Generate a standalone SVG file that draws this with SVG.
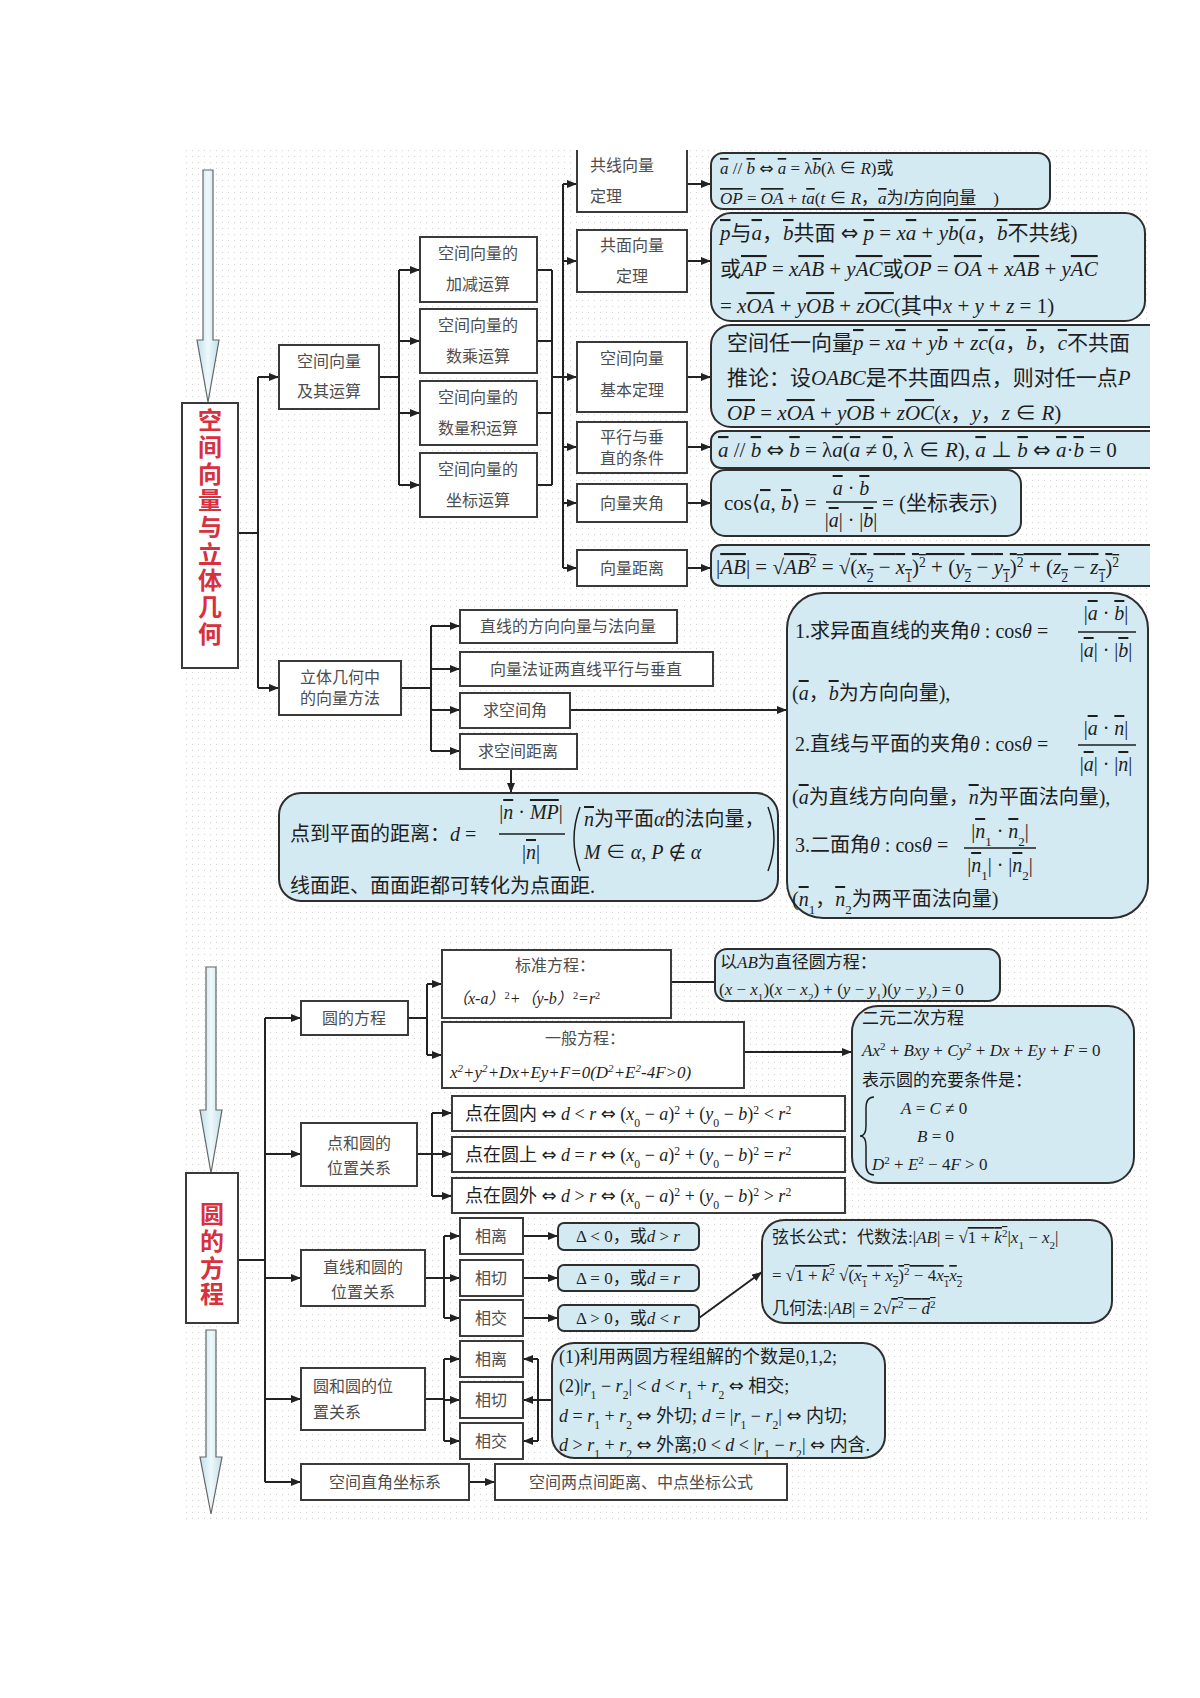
<svg xmlns="http://www.w3.org/2000/svg" width="1200" height="1698" viewBox="0 0 1200 1698">
<defs>
<style>
.nb{fill:#fff;stroke:#3a3a3a;stroke-width:2}
.fb{fill:#d4eaf3;stroke:#2e2e2e;stroke-width:2}
.t{font-family:"Noto Sans CJK SC",sans-serif;font-size:16px;fill:#4d4d4d;text-anchor:middle}
.tl{font-family:"Noto Sans CJK SC",sans-serif;font-size:16px;fill:#4d4d4d}
.m{font-family:"Liberation Serif","Noto Sans CJK SC",serif;fill:#1e1e1e}
.mc{text-anchor:middle}
.i{font-style:italic}
.v{text-decoration:overline}
.ar{font-family:"DejaVu Sans",sans-serif;font-style:normal}
.sb{baseline-shift:sub;font-size:65%}
.sp{baseline-shift:super;font-size:65%}
.c{stroke:#222;stroke-width:2;fill:none}
.ttl{font-family:"Noto Sans CJK SC",sans-serif;font-size:24px;font-weight:bold;fill:#d7303e;writing-mode:tb;letter-spacing:2.7px}
.bar{stroke:#1e1e1e;stroke-width:1.3}
.par{stroke:#1e1e1e;stroke-width:1.5;fill:none}
</style>
<marker id="ah" viewBox="0 0 10 8" refX="10" refY="4" markerWidth="10" markerHeight="8" markerUnits="userSpaceOnUse" orient="auto"><path d="M0,0 L10,4 L0,8 z" fill="#222"/></marker>
<pattern id="dots" width="6" height="6" patternUnits="userSpaceOnUse"><rect x="0" y="0" width="1" height="1" fill="#d4d4d4"/></pattern>
<clipPath id="clipR"><rect x="0" y="0" width="1150" height="1698"/></clipPath>
<linearGradient id="ag" x1="0" x2="1"><stop offset="0" stop-color="#bfe0ea"/><stop offset="0.5" stop-color="#eef9fb"/><stop offset="1" stop-color="#bfe0ea"/></linearGradient>
</defs>
<rect width="1200" height="1698" fill="#fff"/>
<rect x="182" y="150" width="968" height="1372" fill="url(#dots)"/>

<g id="arrow-top"><path d="M203,170 L213,170 L213,340 L219,340 L208,402 L197,340 L203,340 Z" fill="url(#ag)" stroke="#666" stroke-width="1.2"/></g>
<g id="arrow-mid"><path d="M206,967 L216,967 L216,1110 L222,1110 L211,1173 L200,1110 L206,1110 Z" fill="url(#ag)" stroke="#666" stroke-width="1.2"/></g>
<g id="arrow-bot"><path d="M206,1330 L216,1330 L216,1457 L222,1457 L211,1514 L200,1457 L206,1457 Z" fill="url(#ag)" stroke="#666" stroke-width="1.2"/></g>

<g id="connectors">
<path class="c" d="M238,533 H258 M258,377 V688 M379,377 H399 M399,270 V485 M537,270 H552 M537,341 H552 M537,413 H552 M537,485 H552 M552,270 V485 M552,377 H563 M563,184 V568"/>
<path class="c" marker-end="url(#ah)" d="M258,377 H279"/>
<path class="c" marker-end="url(#ah)" d="M258,688 H279"/>
<path class="c" marker-end="url(#ah)" d="M399,270 H420"/>
<path class="c" marker-end="url(#ah)" d="M399,341 H420"/>
<path class="c" marker-end="url(#ah)" d="M399,413 H420"/>
<path class="c" marker-end="url(#ah)" d="M399,485 H420"/>
<path class="c" marker-end="url(#ah)" d="M563,184 H577"/>
<path class="c" marker-end="url(#ah)" d="M563,261 H577"/>
<path class="c" marker-end="url(#ah)" d="M563,377 H577"/>
<path class="c" marker-end="url(#ah)" d="M563,447 H577"/>
<path class="c" marker-end="url(#ah)" d="M563,503 H577"/>
<path class="c" marker-end="url(#ah)" d="M563,568 H577"/>
<path class="c" marker-end="url(#ah)" d="M687,184 H711"/>
<path class="c" marker-end="url(#ah)" d="M687,261 H711"/>
<path class="c" marker-end="url(#ah)" d="M687,377 H711"/>
<path class="c" marker-end="url(#ah)" d="M687,447 H711"/>
<path class="c" marker-end="url(#ah)" d="M687,503 H711"/>
<path class="c" marker-end="url(#ah)" d="M687,568 H711"/>
<path class="c" d="M401,688 H431 M431,626 V751"/>
<path class="c" marker-end="url(#ah)" d="M431,626 H460"/>
<path class="c" marker-end="url(#ah)" d="M431,669 H460"/>
<path class="c" marker-end="url(#ah)" d="M431,710 H460"/>
<path class="c" marker-end="url(#ah)" d="M431,751 H460"/>
<path class="c" marker-end="url(#ah)" d="M570,710 H787"/>
<path class="c" marker-end="url(#ah)" d="M511,769 V793"/>

<path class="c" d="M238,1260 H265 M265,1018 V1482 M408,1018 H427 M427,984 V1055 M671,982 H715 M417,1154 H432 M432,1113 V1196 M425,1278 H444 M444,1236 V1318 M425,1399 H444 M444,1359 V1441 M552,1400 H538 M538,1359 V1441"/>
<path class="c" marker-end="url(#ah)" d="M265,1018 H301"/>
<path class="c" marker-end="url(#ah)" d="M265,1154 H301"/>
<path class="c" marker-end="url(#ah)" d="M265,1278 H301"/>
<path class="c" marker-end="url(#ah)" d="M265,1399 H301"/>
<path class="c" marker-end="url(#ah)" d="M265,1482 H301"/>
<path class="c" marker-end="url(#ah)" d="M427,984 H442"/>
<path class="c" marker-end="url(#ah)" d="M427,1055 H442"/>
<path class="c" marker-end="url(#ah)" d="M744,1052 H852"/>
<path class="c" marker-end="url(#ah)" d="M432,1113 H452"/>
<path class="c" marker-end="url(#ah)" d="M432,1154 H452"/>
<path class="c" marker-end="url(#ah)" d="M432,1196 H452"/>
<path class="c" marker-end="url(#ah)" d="M444,1236 H460"/>
<path class="c" marker-end="url(#ah)" d="M444,1278 H460"/>
<path class="c" marker-end="url(#ah)" d="M444,1318 H460"/>
<path class="c" marker-end="url(#ah)" d="M523,1236 H558"/>
<path class="c" marker-end="url(#ah)" d="M523,1278 H558"/>
<path class="c" marker-end="url(#ah)" d="M523,1318 H558"/>
<path class="c" marker-end="url(#ah)" d="M699,1318 L762,1272" stroke-width="3"/>
<path class="c" marker-end="url(#ah)" d="M444,1359 H460"/>
<path class="c" marker-end="url(#ah)" d="M444,1400 H460"/>
<path class="c" marker-end="url(#ah)" d="M444,1441 H460"/>
<path class="c" marker-end="url(#ah)" d="M538,1359 H523"/>
<path class="c" marker-end="url(#ah)" d="M538,1400 H523"/>
<path class="c" marker-end="url(#ah)" d="M538,1441 H523"/>
<path class="c" marker-end="url(#ah)" d="M469,1482 H495"/>
</g>

<g id="title1"><rect class="nb" x="182" y="403" width="56" height="265"/>
<text class="ttl" x="210" y="408">空间向量与立体几何</text></g>

<g id="n-vecops"><rect class="nb" x="279" y="345" width="100" height="64"/><text class="t"><tspan x="329" y="367">空间向量</tspan><tspan x="329" y="397">及其运算</tspan></text></g>
<g id="n-addsub"><rect class="nb" x="420" y="237" width="117" height="65"/><text class="t"><tspan x="478" y="259">空间向量的</tspan><tspan x="478" y="290">加减运算</tspan></text></g>
<g id="n-scalar"><rect class="nb" x="420" y="309" width="117" height="64"/><text class="t"><tspan x="478" y="331">空间向量的</tspan><tspan x="478" y="362">数乘运算</tspan></text></g>
<g id="n-dot"><rect class="nb" x="420" y="381" width="117" height="64"/><text class="t"><tspan x="478" y="403">空间向量的</tspan><tspan x="478" y="434">数量积运算</tspan></text></g>
<g id="n-coord"><rect class="nb" x="420" y="453" width="117" height="64"/><text class="t"><tspan x="478" y="475">空间向量的</tspan><tspan x="478" y="506">坐标运算</tspan></text></g>

<g id="n-collinear"><path class="nb" d="M577,150 V212 H687 V150"/><text class="tl"><tspan x="590" y="171">共线向量</tspan><tspan x="590" y="202">定理</tspan></text></g>
<g id="n-coplanar"><rect class="nb" x="577" y="230" width="110" height="62"/><text class="t"><tspan x="632" y="251">共面向量</tspan><tspan x="632" y="282">定理</tspan></text></g>
<g id="n-basic"><rect class="nb" x="577" y="342" width="110" height="70"/><text class="t"><tspan x="632" y="364">空间向量</tspan><tspan x="632" y="396">基本定理</tspan></text></g>
<g id="n-parperp"><rect class="nb" x="577" y="422" width="110" height="51"/><text class="t" font-size="15"><tspan x="632" y="443">平行与垂</tspan><tspan x="632" y="464">直的条件</tspan></text></g>
<g id="n-angle"><rect class="nb" x="577" y="484" width="110" height="38"/><text class="t" x="632" y="509">向量夹角</text></g>
<g id="n-dist"><rect class="nb" x="577" y="550" width="110" height="36"/><text class="t" x="632" y="574">向量距离</text></g>

<g id="f-collinear"><rect class="fb" x="711" y="153" width="339" height="56" rx="12"/>
<text class="m" font-size="17" x="720" y="174"><tspan class="i v">a</tspan> // <tspan class="i v">b</tspan> <tspan class="ar">⇔</tspan> <tspan class="i v">a</tspan> = λ<tspan class="i v">b</tspan>(λ ∈ <tspan class="i">R</tspan>)或</text>
<text class="m" font-size="17" x="720" y="204"><tspan class="i v">OP</tspan> = <tspan class="i v">OA</tspan> + <tspan class="i">t</tspan><tspan class="i v">a</tspan>(<tspan class="i">t</tspan> ∈ <tspan class="i">R</tspan>，<tspan class="i v">a</tspan>为<tspan class="i">l</tspan>方向向量　)</text></g>

<g id="f-coplanar"><rect class="fb" x="711" y="213" width="434" height="108" rx="20"/>
<text class="m" font-size="21" x="720" y="240"><tspan class="i v">p</tspan>与<tspan class="i v">a</tspan>，<tspan class="i v">b</tspan>共面 <tspan class="ar">⇔</tspan> <tspan class="i v">p</tspan> = <tspan class="i">x</tspan><tspan class="i v">a</tspan> + <tspan class="i">y</tspan><tspan class="i v">b</tspan>(<tspan class="i v">a</tspan>，<tspan class="i v">b</tspan>不共线)</text>
<text class="m" font-size="21" x="720" y="276">或<tspan class="i v">AP</tspan> = <tspan class="i">x</tspan><tspan class="i v">AB</tspan> + <tspan class="i">y</tspan><tspan class="i v">AC</tspan>或<tspan class="i v">OP</tspan> = <tspan class="i v">OA</tspan> + <tspan class="i">x</tspan><tspan class="i v">AB</tspan> + <tspan class="i">y</tspan><tspan class="i v">AC</tspan></text>
<text class="m" font-size="21" x="720" y="313">= <tspan class="i">x</tspan><tspan class="i v">OA</tspan> + <tspan class="i">y</tspan><tspan class="i v">OB</tspan> + <tspan class="i">z</tspan><tspan class="i v">OC</tspan>(其中<tspan class="i">x</tspan> + <tspan class="i">y</tspan> + <tspan class="i">z</tspan> = 1)</text></g>

<g clip-path="url(#clipR)">
<g id="f-basic"><rect class="fb" x="711" y="325" width="470" height="102" rx="20"/>
<text class="m" font-size="21" x="727" y="350">空间任一向量<tspan class="i v">p</tspan> = <tspan class="i">x</tspan><tspan class="i v">a</tspan> + <tspan class="i">y</tspan><tspan class="i v">b</tspan> + <tspan class="i">z</tspan><tspan class="i v">c</tspan>(<tspan class="i v">a</tspan>，<tspan class="i v">b</tspan>，<tspan class="i v">c</tspan>不共面</text>
<text class="m" font-size="21" x="727" y="385">推论：设<tspan class="i">OABC</tspan>是不共面四点，则对任一点<tspan class="i">P</tspan></text>
<text class="m" font-size="21" x="727" y="420"><tspan class="i v">OP</tspan> = <tspan class="i">x</tspan><tspan class="i v">OA</tspan> + <tspan class="i">y</tspan><tspan class="i v">OB</tspan> + <tspan class="i">z</tspan><tspan class="i v">OC</tspan>(<tspan class="i">x</tspan>，<tspan class="i">y</tspan>，<tspan class="i">z</tspan> ∈ <tspan class="i">R</tspan>)</text></g>
<g id="f-parperp"><rect class="fb" x="711" y="431" width="470" height="37" rx="10"/>
<text class="m" font-size="21" x="718" y="457"><tspan class="i v">a</tspan> // <tspan class="i v">b</tspan> <tspan class="ar">⇔</tspan> <tspan class="i v">b</tspan> = λ<tspan class="i v">a</tspan>(<tspan class="i v">a</tspan> ≠ <tspan class="v">0</tspan>, λ ∈ <tspan class="i">R</tspan>), <tspan class="i v">a</tspan> ⊥ <tspan class="i v">b</tspan> <tspan class="ar">⇔</tspan> <tspan class="i v">a</tspan>·<tspan class="i v">b</tspan> = 0</text></g>
<g id="f-dist"><rect class="fb" x="711" y="545" width="470" height="41" rx="10"/>
<text class="m" font-size="21" x="716" y="574">|<tspan class="i v">AB</tspan>| = √<tspan class="v"><tspan class="i">AB</tspan><tspan class="sp">2</tspan></tspan> = √<tspan class="v">(<tspan class="i">x</tspan><tspan class="sb">2</tspan> − <tspan class="i">x</tspan><tspan class="sb">1</tspan>)<tspan class="sp">2</tspan> + (<tspan class="i">y</tspan><tspan class="sb">2</tspan> − <tspan class="i">y</tspan><tspan class="sb">1</tspan>)<tspan class="sp">2</tspan> + (<tspan class="i">z</tspan><tspan class="sb">2</tspan> − <tspan class="i">z</tspan><tspan class="sb">1</tspan>)<tspan class="sp">2</tspan></tspan></text></g>
</g>

<g id="f-angle"><rect class="fb" x="711" y="470" width="310" height="66" rx="14"/>
<text class="m" font-size="21" x="724" y="510">cos⟨<tspan class="i v">a</tspan>, <tspan class="i v">b</tspan>⟩ =</text>
<text class="m mc" font-size="20" x="851" y="495"><tspan class="i v">a</tspan> · <tspan class="i v">b</tspan></text>
<line class="bar" x1="826" y1="502" x2="877" y2="502"/>
<text class="m mc" font-size="20" x="851" y="527">|<tspan class="i v">a</tspan>| · |<tspan class="i v">b</tspan>|</text>
<text class="m" font-size="21" x="882" y="510">= (坐标表示)</text></g>

<g id="n-method"><rect class="nb" x="279" y="661" width="122" height="54"/><text class="t"><tspan x="340" y="683">立体几何中</tspan><tspan x="340" y="704">的向量方法</tspan></text></g>
<g id="n-dirnorm"><rect class="nb" x="460" y="610" width="217" height="33"/><text class="t" x="568" y="632">直线的方向向量与法向量</text></g>
<g id="n-proof"><rect class="nb" x="460" y="652" width="253" height="34"/><text class="t" x="586" y="675">向量法证两直线平行与垂直</text></g>
<g id="n-spangle"><rect class="nb" x="460" y="693" width="110" height="35"/><text class="t" x="515" y="716">求空间角</text></g>
<g id="n-spdist"><rect class="nb" x="460" y="734" width="117" height="35"/><text class="t" x="518" y="757">求空间距离</text></g>

<g id="f-pointplane"><rect class="fb" x="279" y="793" width="499" height="108" rx="22"/>
<text class="m" font-size="20" x="290" y="841">点到平面的距离：<tspan class="i">d</tspan> =</text>
<text class="m mc" font-size="20" x="531" y="819">|<tspan class="i v">n</tspan> · <tspan class="i v">MP</tspan>|</text>
<line class="bar" x1="499" y1="834" x2="565" y2="834"/>
<text class="m mc" font-size="20" x="531" y="859">|<tspan class="i v">n</tspan>|</text>
<path class="par" d="M580,807 Q568,839 580,871"/>
<path class="par" d="M768,807 Q780,839 768,871"/>
<text class="m" font-size="20" x="584" y="826"><tspan class="i v">n</tspan>为平面<tspan class="i">α</tspan>的法向量，</text>
<text class="m" font-size="20" x="584" y="859"><tspan class="i">M</tspan> ∈ <tspan class="i">α</tspan>, <tspan class="i">P</tspan> <tspan class="ar">∉</tspan> <tspan class="i">α</tspan></text>
<text class="m" font-size="20" x="290" y="893">线面距、面面距都可转化为点面距.</text></g>

<g id="f-angles"><rect class="fb" x="787" y="593" width="361" height="325" rx="36"/>
<text class="m" font-size="20" x="795" y="638">1.求异面直线的夹角<tspan class="i">θ</tspan> : cos<tspan class="i">θ</tspan> =</text>
<text class="m mc" font-size="20" x="1106" y="620">|<tspan class="i v">a</tspan> · <tspan class="i v">b</tspan>|</text>
<line class="bar" x1="1078" y1="632" x2="1136" y2="632"/>
<text class="m mc" font-size="20" x="1106" y="657">|<tspan class="i v">a</tspan>| · |<tspan class="i v">b</tspan>|</text>
<text class="m" font-size="20" x="792" y="700">(<tspan class="i v">a</tspan>，<tspan class="i v">b</tspan>为方向向量),</text>
<text class="m" font-size="20" x="795" y="751">2.直线与平面的夹角<tspan class="i">θ</tspan> : cos<tspan class="i">θ</tspan> =</text>
<text class="m mc" font-size="20" x="1106" y="735">|<tspan class="i v">a</tspan> · <tspan class="i v">n</tspan>|</text>
<line class="bar" x1="1078" y1="745" x2="1136" y2="745"/>
<text class="m mc" font-size="20" x="1106" y="771">|<tspan class="i v">a</tspan>| · |<tspan class="i v">n</tspan>|</text>
<text class="m" font-size="20" x="792" y="804">(<tspan class="i v">a</tspan>为直线方向向量，<tspan class="i v">n</tspan>为平面法向量),</text>
<text class="m" font-size="20" x="795" y="852">3.二面角<tspan class="i">θ</tspan> : cos<tspan class="i">θ</tspan> =</text>
<text class="m mc" font-size="20" x="1000" y="838">|<tspan class="i v">n</tspan><tspan class="sb">1</tspan> · <tspan class="i v">n</tspan><tspan class="sb">2</tspan>|</text>
<line class="bar" x1="964" y1="848" x2="1036" y2="848"/>
<text class="m mc" font-size="20" x="1000" y="872">|<tspan class="i v">n</tspan><tspan class="sb">1</tspan>| · |<tspan class="i v">n</tspan><tspan class="sb">2</tspan>|</text>
<text class="m" font-size="20" x="792" y="906">(<tspan class="i v">n</tspan><tspan class="sb">1</tspan>，<tspan class="i v">n</tspan><tspan class="sb">2</tspan>为两平面法向量)</text></g>

<g id="title2"><rect class="nb" x="186" y="1173" width="52" height="150"/>
<text class="ttl" x="212" y="1202">圆的方程</text></g>

<g id="n-circeq"><rect class="nb" x="301" y="1001" width="107" height="34"/><text class="t" font-size="17" x="354" y="1024">圆的方程</text></g>
<g id="n-stdeq"><rect class="nb" x="442" y="950" width="229" height="68"/><text class="t" font-size="17" x="555" y="971">标准方程：</text>
<text class="m i" font-size="16" x="452" y="1004">（x-a）<tspan class="sp" font-style="normal">2</tspan>+（y-b）<tspan class="sp" font-style="normal">2</tspan>=r<tspan class="sp" font-style="normal">2</tspan></text></g>
<g id="n-geneq"><rect class="nb" x="442" y="1022" width="302" height="66"/><text class="t" font-size="17" x="585" y="1044">一般方程：</text>
<text class="m i" font-size="17" x="450" y="1078">x<tspan class="sp">2</tspan>+y<tspan class="sp">2</tspan>+Dx+Ey+F=0(D<tspan class="sp">2</tspan>+E<tspan class="sp">2</tspan>-4F&gt;0)</text></g>
<g id="f-diam"><rect class="fb" x="715" y="949" width="285" height="52" rx="12"/>
<text class="m" font-size="17" x="720" y="968">以<tspan class="i">AB</tspan>为直径圆方程：</text>
<text class="m" font-size="17" x="719" y="995">(<tspan class="i">x</tspan> − <tspan class="i">x</tspan><tspan class="sb">1</tspan>)(<tspan class="i">x</tspan> − <tspan class="i">x</tspan><tspan class="sb">2</tspan>) + (<tspan class="i">y</tspan> − <tspan class="i">y</tspan><tspan class="sb">1</tspan>)(<tspan class="i">y</tspan> − <tspan class="i">y</tspan><tspan class="sb">2</tspan>) = 0</text></g>
<g id="f-quad"><rect class="fb" x="852" y="1006" width="282" height="177" rx="26"/>
<text class="m" font-size="17" x="862" y="1024">二元二次方程</text>
<text class="m" font-size="17" x="862" y="1056"><tspan class="i">Ax</tspan><tspan class="sp">2</tspan> + <tspan class="i">Bxy</tspan> + <tspan class="i">Cy</tspan><tspan class="sp">2</tspan> + <tspan class="i">Dx</tspan> + <tspan class="i">Ey</tspan> + <tspan class="i">F</tspan> = 0</text>
<text class="m" font-size="17" x="862" y="1086">表示圆的充要条件是：</text>
<path class="par" d="M874,1097 Q866,1097 866,1108 V1126 Q866,1136 860,1136 Q866,1136 866,1146 V1164 Q866,1175 874,1175"/>
<text class="m" font-size="17" x="901" y="1114"><tspan class="i">A</tspan> = <tspan class="i">C</tspan> ≠ 0</text>
<text class="m" font-size="17" x="917" y="1142"><tspan class="i">B</tspan> = 0</text>
<text class="m" font-size="17" x="872" y="1170"><tspan class="i">D</tspan><tspan class="sp">2</tspan> + <tspan class="i">E</tspan><tspan class="sp">2</tspan> − 4<tspan class="i">F</tspan> &gt; 0</text></g>

<g id="n-pointcirc"><rect class="nb" x="301" y="1123" width="116" height="63"/><text class="t" font-size="17"><tspan x="359" y="1149">点和圆的</tspan><tspan x="359" y="1174">位置关系</tspan></text></g>
<g id="n-in"><rect class="nb" x="452" y="1096" width="393" height="35"/>
<text class="m" font-size="18" x="465" y="1120">点在圆内 <tspan class="ar">⇔</tspan> <tspan class="i">d</tspan> &lt; <tspan class="i">r</tspan> <tspan class="ar">⇔</tspan> (<tspan class="i">x</tspan><tspan class="sb">0</tspan> − <tspan class="i">a</tspan>)<tspan class="sp">2</tspan> + (<tspan class="i">y</tspan><tspan class="sb">0</tspan> − <tspan class="i">b</tspan>)<tspan class="sp">2</tspan> &lt; <tspan class="i">r</tspan><tspan class="sp">2</tspan></text></g>
<g id="n-on"><rect class="nb" x="452" y="1137" width="393" height="35"/>
<text class="m" font-size="18" x="465" y="1161">点在圆上 <tspan class="ar">⇔</tspan> <tspan class="i">d</tspan> = <tspan class="i">r</tspan> <tspan class="ar">⇔</tspan> (<tspan class="i">x</tspan><tspan class="sb">0</tspan> − <tspan class="i">a</tspan>)<tspan class="sp">2</tspan> + (<tspan class="i">y</tspan><tspan class="sb">0</tspan> − <tspan class="i">b</tspan>)<tspan class="sp">2</tspan> = <tspan class="i">r</tspan><tspan class="sp">2</tspan></text></g>
<g id="n-out"><rect class="nb" x="452" y="1178" width="393" height="35"/>
<text class="m" font-size="18" x="465" y="1202">点在圆外 <tspan class="ar">⇔</tspan> <tspan class="i">d</tspan> &gt; <tspan class="i">r</tspan> <tspan class="ar">⇔</tspan> (<tspan class="i">x</tspan><tspan class="sb">0</tspan> − <tspan class="i">a</tspan>)<tspan class="sp">2</tspan> + (<tspan class="i">y</tspan><tspan class="sb">0</tspan> − <tspan class="i">b</tspan>)<tspan class="sp">2</tspan> &gt; <tspan class="i">r</tspan><tspan class="sp">2</tspan></text></g>

<g id="n-linecirc"><rect class="nb" x="301" y="1250" width="124" height="56"/><text class="t" font-size="17"><tspan x="363" y="1273">直线和圆的</tspan><tspan x="363" y="1298">位置关系</tspan></text></g>
<g id="n-l-sep"><rect class="nb" x="460" y="1218" width="63" height="36"/><text class="t" font-size="17" x="491" y="1242">相离</text></g>
<g id="n-l-tan"><rect class="nb" x="460" y="1260" width="63" height="36"/><text class="t" font-size="17" x="491" y="1284">相切</text></g>
<g id="n-l-int"><rect class="nb" x="460" y="1300" width="63" height="36"/><text class="t" font-size="17" x="491" y="1324">相交</text></g>
<g id="f-l-sep"><rect class="fb" x="558" y="1223" width="141" height="27" rx="6"/><text class="m mc" font-size="17" x="628" y="1242">Δ &lt; 0，或<tspan class="i">d</tspan> &gt; <tspan class="i">r</tspan></text></g>
<g id="f-l-tan"><rect class="fb" x="558" y="1265" width="141" height="26" rx="6"/><text class="m mc" font-size="17" x="628" y="1284">Δ = 0，或<tspan class="i">d</tspan> = <tspan class="i">r</tspan></text></g>
<g id="f-l-int"><rect class="fb" x="558" y="1305" width="141" height="26" rx="6"/><text class="m mc" font-size="17" x="628" y="1324">Δ &gt; 0，或<tspan class="i">d</tspan> &lt; <tspan class="i">r</tspan></text></g>
<g id="f-chord"><rect class="fb" x="762" y="1220" width="350" height="103" rx="22"/>
<text class="m" font-size="17" x="772" y="1243">弦长公式：代数法:|<tspan class="i">AB</tspan>| = √<tspan class="v">1 + <tspan class="i">k</tspan><tspan class="sp">2</tspan></tspan>|<tspan class="i">x</tspan><tspan class="sb">1</tspan> − <tspan class="i">x</tspan><tspan class="sb">2</tspan>|</text>
<text class="m" font-size="17" x="772" y="1281">= √<tspan class="v">1 + <tspan class="i">k</tspan><tspan class="sp">2</tspan></tspan> √<tspan class="v">(<tspan class="i">x</tspan><tspan class="sb">1</tspan> + <tspan class="i">x</tspan><tspan class="sb">2</tspan>)<tspan class="sp">2</tspan> − 4<tspan class="i">x</tspan><tspan class="sb">1</tspan><tspan class="i">x</tspan><tspan class="sb">2</tspan></tspan></text>
<text class="m" font-size="17" x="772" y="1314">几何法:|<tspan class="i">AB</tspan>| = 2√<tspan class="v"><tspan class="i">r</tspan><tspan class="sp">2</tspan> − <tspan class="i">d</tspan><tspan class="sp">2</tspan></tspan></text></g>

<g id="n-circcirc"><rect class="nb" x="301" y="1368" width="124" height="62"/><text class="tl" font-size="17"><tspan x="313" y="1392">圆和圆的位</tspan><tspan x="313" y="1418">置关系</tspan></text></g>
<g id="n-c-sep"><rect class="nb" x="460" y="1341" width="63" height="36"/><text class="t" font-size="17" x="491" y="1365">相离</text></g>
<g id="n-c-tan"><rect class="nb" x="460" y="1382" width="63" height="36"/><text class="t" font-size="17" x="491" y="1406">相切</text></g>
<g id="n-c-int"><rect class="nb" x="460" y="1423" width="63" height="36"/><text class="t" font-size="17" x="491" y="1447">相交</text></g>
<g id="f-cc"><rect class="fb" x="552" y="1343" width="333" height="115" rx="22"/>
<text class="m" font-size="18" x="559" y="1363">(1)利用两圆方程组解的个数是0,1,2;</text>
<text class="m" font-size="18" x="559" y="1392">(2)|<tspan class="i">r</tspan><tspan class="sb">1</tspan> − <tspan class="i">r</tspan><tspan class="sb">2</tspan>| &lt; <tspan class="i">d</tspan> &lt; <tspan class="i">r</tspan><tspan class="sb">1</tspan> + <tspan class="i">r</tspan><tspan class="sb">2</tspan> <tspan class="ar">⇔</tspan> 相交;</text>
<text class="m" font-size="18" x="559" y="1422"><tspan class="i">d</tspan> = <tspan class="i">r</tspan><tspan class="sb">1</tspan> + <tspan class="i">r</tspan><tspan class="sb">2</tspan> <tspan class="ar">⇔</tspan> 外切; <tspan class="i">d</tspan> = |<tspan class="i">r</tspan><tspan class="sb">1</tspan> − <tspan class="i">r</tspan><tspan class="sb">2</tspan>| <tspan class="ar">⇔</tspan> 内切;</text>
<text class="m" font-size="18" x="559" y="1451"><tspan class="i">d</tspan> &gt; <tspan class="i">r</tspan><tspan class="sb">1</tspan> + <tspan class="i">r</tspan><tspan class="sb">2</tspan> <tspan class="ar">⇔</tspan> 外离;0 &lt; <tspan class="i">d</tspan> &lt; |<tspan class="i">r</tspan><tspan class="sb">1</tspan> − <tspan class="i">r</tspan><tspan class="sb">2</tspan>| <tspan class="ar">⇔</tspan> 内含.</text></g>

<g id="n-coordsys"><rect class="nb" x="301" y="1464" width="168" height="36"/><text class="t" font-size="17" x="385" y="1488">空间直角坐标系</text></g>
<g id="n-distmid"><rect class="nb" x="495" y="1464" width="292" height="36"/><text class="t" font-size="17" x="641" y="1488">空间两点间距离、中点坐标公式</text></g>
</svg>
